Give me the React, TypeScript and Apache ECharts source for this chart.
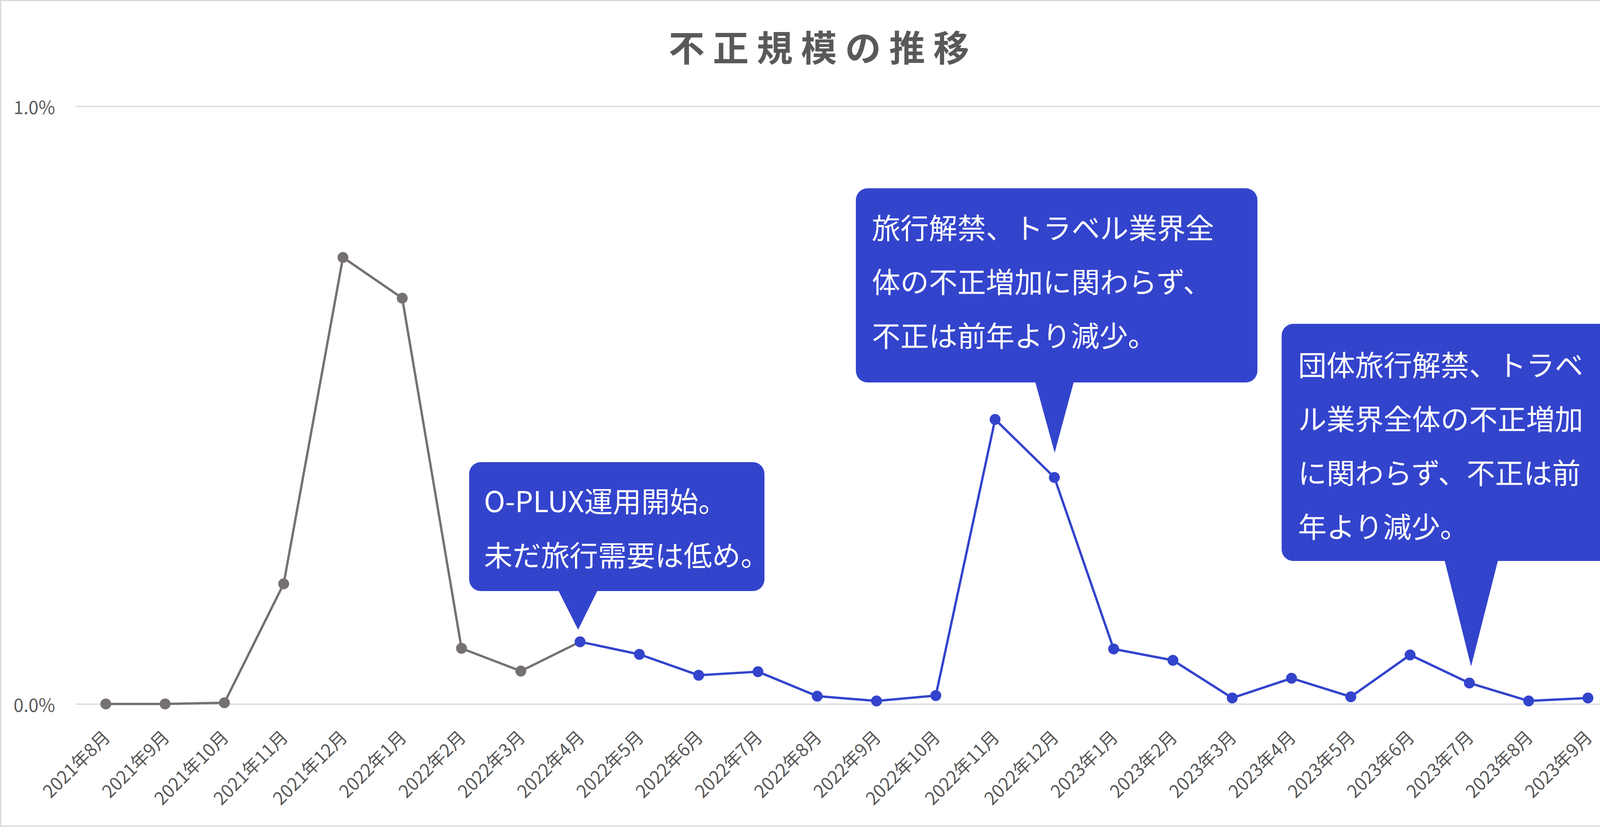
import { useEffect, useRef } from 'react'
import * as echarts from 'echarts'

const FONT = '"Noto Sans CJK JP", "Noto Sans", sans-serif'
const GRAY = '#767171'
const BLUE = '#3344CC'
const TEXT = '#595959'
const GRID = '#D9D9D9'

const months = [
  '2021年8月', '2021年9月', '2021年10月', '2021年11月', '2021年12月',
  '2022年1月', '2022年2月', '2022年3月', '2022年4月', '2022年5月',
  '2022年6月', '2022年7月', '2022年8月', '2022年9月', '2022年10月',
  '2022年11月', '2022年12月', '2023年1月', '2023年2月', '2023年3月',
  '2023年4月', '2023年5月', '2023年6月', '2023年7月', '2023年8月',
  '2023年9月',
]

// 不正規模 (%)
const fraudRate = [
  0.0, 0.0, 0.002, 0.201, 0.747,
  0.679, 0.093, 0.055, 0.104, 0.083,
  0.048, 0.054, 0.013, 0.005, 0.014,
  0.476, 0.379, 0.092, 0.073, 0.01,
  0.043, 0.012, 0.082, 0.035, 0.005,
  0.01,
]

// index of 2022年4月 (O-PLUX 運用開始)
const oplusStart = 8

const yTicks = [0, 1]

const noteOplux = ['O-PLUX運用開始。', '未だ旅行需要は低め。']
const noteTravel = ['旅行解禁、トラベル業界全', '体の不正増加に関わらず、', '不正は前年より減少。']
const noteGroup = ['団体旅行解禁、トラベ', 'ル業界全体の不正増加', 'に関わらず、不正は前', '年より減少。']

function callout(
  box: [number, number, number, number],
  tail: [number, number, number],
  tip: [number, number],
  textPos: [number, number],
  lines: string[],
) {
  const [x, y, w, h] = box
  return {
    type: 'group',
    children: [
      {
        type: 'rect',
        shape: { x, y, width: w, height: h, r: 30 },
        style: { fill: BLUE },
      },
      {
        type: 'polygon',
        shape: {
          points: [
            [tail[0], tail[2] - 2],
            [tail[1], tail[2] - 2],
            tip,
          ],
        },
        style: { fill: BLUE },
      },
      {
        type: 'text',
        x: textPos[0],
        y: textPos[1],
        style: {
          text: lines.join('\n'),
          fill: '#ffffff',
          font: `73px ${FONT}`,
          lineHeight: 138,
          textAlign: 'left',
          textVerticalAlign: 'top',
        },
      },
    ],
  }
}

export default function App() {
  const ref = useRef<HTMLDivElement>(null)

  useEffect(() => {
    if (!ref.current) return
    const chart = echarts.init(ref.current, null, { renderer: 'svg' })

    const gray = fraudRate.map((v, i) =>
      i < oplusStart ? v : i === oplusStart ? { value: v, symbol: 'none' } : '-',
    )
    const blue = fraudRate.map((v, i) => (i >= oplusStart ? v : '-'))

    chart.setOption({
      animation: false,
      backgroundColor: '#ffffff',
      textStyle: { fontFamily: FONT },
      title: {
        text: '不 正 規 模 の 推 移',
        left: 'center',
        top: 65,
        textStyle: { fontSize: 92, fontWeight: 'bold', color: TEXT, fontFamily: FONT },
      },
      grid: { left: 195, right: 52, top: 272, bottom: 315 },
      xAxis: {
        type: 'category',
        data: months,
        boundaryGap: true,
        axisTick: { show: false },
        axisLine: { lineStyle: { color: GRID, width: 3 } },
        axisLabel: {
          rotate: 45,
          interval: 0,
          margin: 74,
          fontSize: 46,
          color: TEXT,
          fontFamily: FONT,
        },
      },
      yAxis: {
        type: 'value',
        min: yTicks[0],
        max: yTicks[yTicks.length - 1],
        interval: 1,
        axisLine: { show: false },
        axisTick: { show: false },
        splitLine: { lineStyle: { color: GRID, width: 3 } },
        axisLabel: {
          margin: 54,
          fontSize: 46,
          color: TEXT,
          fontFamily: FONT,
          formatter: (v: number) => `${v.toFixed(1)}%`,
        },
      },
      series: [
        {
          name: '導入前',
          type: 'line',
          data: gray,
          symbol: 'circle',
          symbolSize: 28,
          lineStyle: { color: GRAY, width: 6 },
          itemStyle: { color: GRAY },
          z: 2,
        },
        {
          name: 'O-PLUX導入後',
          type: 'line',
          data: blue,
          symbol: 'circle',
          symbolSize: 28,
          lineStyle: { color: BLUE, width: 6 },
          itemStyle: { color: BLUE },
          z: 3,
        },
      ],
      graphic: [
        {
          type: 'rect',
          shape: { x: 1.5, y: 1.5, width: 4187, height: 2113 },
          style: { fill: 'none', stroke: GRID, lineWidth: 3 },
          silent: true,
        },
        callout([1201, 1183, 756, 330], [1429, 1530, 1513], [1480, 1612], [1239, 1210], noteOplux),
        callout([2191, 482, 1028, 497], [2650, 2749, 979], [2700, 1159], [2232, 510], noteTravel),
        callout([3281, 829, 856, 607], [3698, 3835, 1436], [3766, 1706], [3323, 861], noteGroup),
      ],
    })

    return () => chart.dispose()
  }, [])

  return (
    <div
      ref={ref}
      style={{ position: 'fixed', left: 0, top: 0, width: 4193, height: 2117 }}
    />
  )
}
